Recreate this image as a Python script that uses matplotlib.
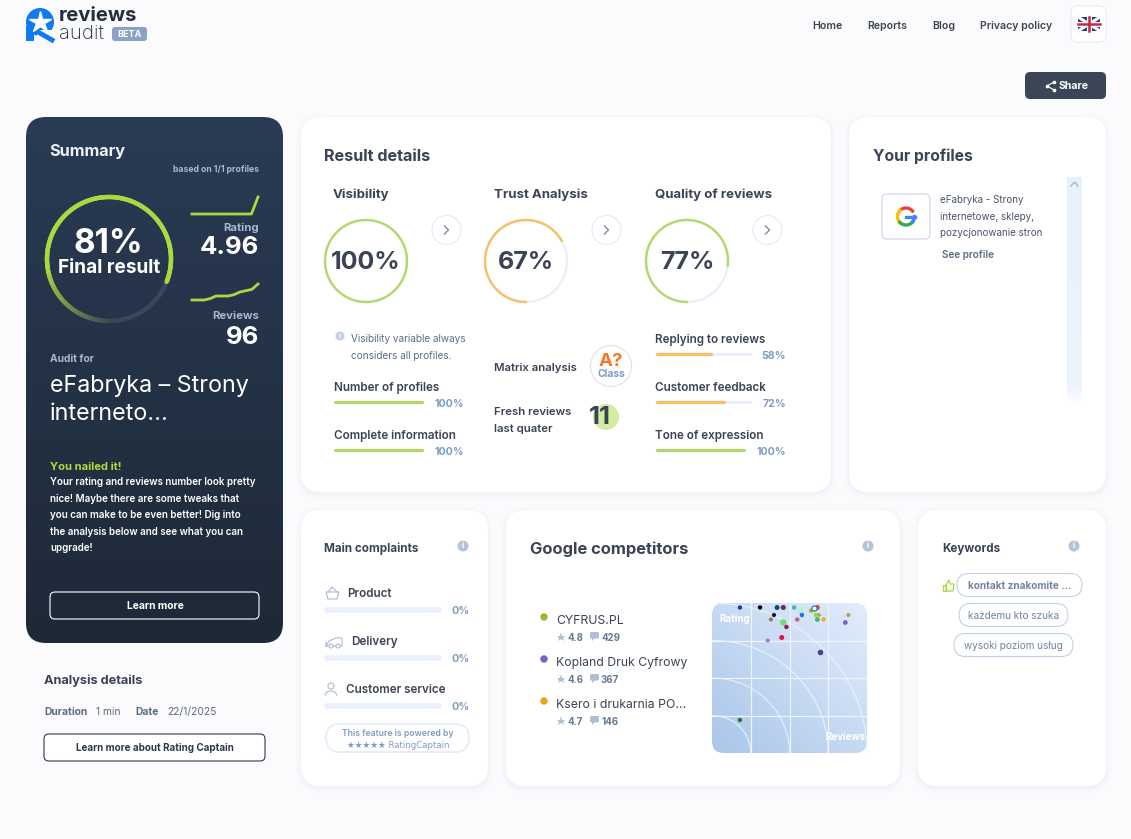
import matplotlib
matplotlib.use('Agg')
import matplotlib.pyplot as plt
import numpy as np
from matplotlib.patches import FancyBboxPatch, Circle, Rectangle, Polygon
from matplotlib.colors import LinearSegmentedColormap, to_rgb

plt.rcParams['font.family'] = ['Inter', 'DejaVu Sans']

# data
nav_labels = ['Home', 'Reports', 'Blog', 'Privacy policy']
final_result = 81
rating = '4.96'
reviews = '96'
rating_trend = [4.90, 4.90, 4.90, 4.90, 4.90, 4.90, 4.90, 4.90, 4.90, 4.90, 4.96]
reviews_trend = [84, 84, 84, 85, 87, 87, 87, 88, 90, 91, 92, 96]

gauge_names = ['Visibility', 'Trust Analysis', 'Quality of reviews']
gauge_values = [100, 67, 77]

left_bars = ['Number of profiles', 'Complete information']
left_values = [100, 100]
right_bars = ['Replying to reviews', 'Customer feedback', 'Tone of expression']
right_values = [58, 72, 100]

complaints = ['Product', 'Delivery', 'Customer service']
complaint_values = [0, 0, 0]

competitors = ['CYFRUS.PL', 'Kopland Druk Cyfrowy', 'Ksero i drukarnia PO...']
comp_rating = [4.8, 4.6, 4.7]
comp_reviews = [429, 367, 146]
comp_colors = ['#a3b03a', '#7a5fd0', '#f0a01c']

keywords = ['kontakt znakomite ...', 'każdemu kto szuka', 'wysoki poziom usług']

summary_text = ['Your rating and reviews number look pretty',
                'nice! Maybe there are some tweaks that',
                'you can make to be even better! Dig into',
                'the analysis below and see what you can',
                'upgrade!']

# matrix scatter, both axes 0-100
matrix_reviews = [18, 31, 42, 46, 53, 66, 68, 57, 64, 40, 58, 67, 69, 88, 38, 55, 68, 72, 86, 46, 48, 45, 36, 70, 18]
matrix_rating = [97, 97, 97, 97, 97, 97, 97, 95, 95, 92, 92, 92, 92, 92, 89, 89, 89, 89, 87, 87, 84, 77, 75, 67, 22]
matrix_colors = ['#1c3f9c', '#000000', '#0f4c75', '#6b2a4a', '#2fb7c9', '#ffffff', '#d9541e', '#b5eed5', '#9ab51a',
                 '#2d0f3a', '#1f6fe8', '#8fe01a', '#b5a83c', '#b5a83c', '#8f8a3a', '#cc5c85', '#3ab87a', '#f0a81c',
                 '#7d62cc', '#6fe06a', '#a0106a', '#e0104f', '#b070ea', '#4b3fa0', '#1d7a30']
matrix_sizes = [10, 10, 13, 13, 10, 18, 13, 22, 10, 9, 10, 10, 7, 9, 9, 10, 12, 9, 12, 22, 10, 13, 9, 16, 10]

W, H = 1131, 839
DARK = '#3a4454'
BLUE = '#7f9cc4'
GREEN = '#b5d86a'
ORANGE = '#f8bf66'
PALE = '#e9f0fb'

fig = plt.figure(figsize=(W / 100, H / 100), dpi=100, facecolor='#fbfbfd')
ax = fig.add_axes([0, 0, 1, 1])
ax.set_xlim(0, W)
ax.set_ylim(H, 0)
ax.axis('off')


def t(x, y, s, size=9, color=DARK, weight='normal', ha='left', **kw):
    return ax.text(x, y + 3.2, s, fontsize=size, color=color, fontweight=weight, ha=ha, va='center', **kw)


def box(x, y, w, h, r, fc='white', ec='none', lw=1, z=1, target=None):
    p = FancyBboxPatch((x, y), w, h, boxstyle='round,pad=0,rounding_size=%s' % r,
                       fc=fc, ec=ec, lw=lw, zorder=z)
    (target or ax).add_patch(p)
    return p


def card(x, y, w, h, r=20):
    for grow, a in ((5, 0.008), (3, 0.012), (1, 0.016)):
        box(x - grow, y - grow + 2, w + 2 * grow, h + 2 * grow, r + grow, fc=(0.2, 0.3, 0.5, a))
    box(x, y, w, h, r)


def gradient(x, y, w, h, r, c0, c1, z=1.5):
    g = np.linspace(0, 1, 256)
    cm = LinearSegmentedColormap.from_list('g', [c0, c1])
    im = ax.imshow(g.reshape(-1, 1), cmap=cm, extent=(x, x + w, y + h, y), aspect='auto', zorder=z, vmin=0, vmax=1)
    clip = box(x, y, w, h, r, fc='none', z=z)
    im.set_clip_path(clip)
    ax.set_xlim(0, W)
    ax.set_ylim(H, 0)
    return im


def ring(cx, cy, r, value, color, rest, lw=1.7):
    # arcs start at the bottom and run clockwise
    a = np.radians(np.linspace(180, 540, 200))
    ax.plot(cx + r * np.sin(a), cy - r * np.cos(a), color=rest, lw=lw, zorder=3)
    a = np.radians(np.linspace(180, 180 + 3.6 * value, 200))
    ax.plot(cx + r * np.sin(a), cy - r * np.cos(a), color=color, lw=lw, zorder=4, solid_capstyle='round')


def bar(x, y, w, value, color, full=None, track=PALE, lw=2.3):
    ax.plot([x, x + w], [y, y], color=track, lw=lw, solid_capstyle='round', zorder=3)
    if value > 0:
        ax.plot([x, x + (full or w) * value / 100], [y, y], color=color, lw=lw, solid_capstyle='round', zorder=4)


def info(x, y):
    ax.add_patch(Circle((x, y), 5.5, fc='#b4c3d8', ec='none', zorder=3))
    ax.text(x, y, 'i', fontsize=6, color='white', fontweight='bold', ha='center', va='center', zorder=4)


# header
ax.add_patch(Circle((40, 22), 14, fc='#0d7bf2', zorder=2))
ax.add_patch(Rectangle((26, 26), 8, 15, fc='#0d7bf2', zorder=2))
ax.add_patch(Rectangle((37, 30), 17, 12, fc='#fbfbfd', zorder=2.1))
ax.plot([38, 52], [32, 40], color='#0d7bf2', lw=3.5, zorder=2.2)
ax.plot([40], [22], marker='*', ms=16, mfc='white', mec='white', zorder=3)
t(59, 13, 'reviews', 14.6, '#222e3e', 'bold')
t(59, 31, 'audit', 14.6, '#222e3e', 'light')
box(112, 27, 35, 14, 3, fc='#8aa3c7')
t(129.5, 31, 'BETA', 6.5, 'white', 'bold', ha='center', zorder=3)

for label, x in zip(nav_labels, [812, 867, 932, 980]):
    t(x, 23, label, 7.6, DARK, 'semibold')
box(1071, 6, 35, 36, 7, fc='white', ec='#e8ebf1', lw=0.8)
ax.add_patch(Rectangle((1078, 17), 22, 14, fc='#2a3f85', zorder=3))
ax.plot([1078, 1100], [17, 31], color='white', lw=2.2, zorder=3.1)
ax.plot([1078, 1100], [31, 17], color='white', lw=2.2, zorder=3.1)
ax.plot([1078, 1100], [24, 24], color='white', lw=3.6, zorder=3.2)
ax.plot([1089, 1089], [17, 31], color='white', lw=3.6, zorder=3.2)
ax.plot([1078, 1100], [24, 24], color='#c8283c', lw=1.8, zorder=3.3)
ax.plot([1089, 1089], [17, 31], color='#c8283c', lw=1.8, zorder=3.3)

box(1025, 72, 81, 27, 5, fc='#3a4656')
ax.plot([1054, 1047, 1054], [82, 86, 90], color='white', lw=0.8, zorder=3)
ax.scatter([1054, 1047, 1054], [82, 86, 90], s=7, c='white', linewidths=0, zorder=3)
t(1059, 83, 'Share', 7.6, 'white', 'bold', zorder=3)

# summary card
gradient(26, 117, 257, 526, 20, '#2a3b55', '#1e2937')
t(49, 148, 'Summary', 11.7, '#eef2f8', 'bold', zorder=3)
t(259, 166, 'based on 1/1 profiles', 6.2, '#a9b8d0', 'bold', ha='right', zorder=3)

cx, cy, r = 109, 259, 62
a = np.radians(np.linspace(113, 180, 60))
ax.plot(cx + r * np.sin(a), cy - r * np.cos(a), color='#3b4656', lw=3.2, zorder=3)
a = np.radians(np.linspace(180, 180 + 3.6 * final_result, 300))
grey, green = np.array(to_rgb('#3b4656')), np.array(to_rgb('#a9d840'))
for i in range(len(a) - 1):
    f = min(i / 85, 1)
    ax.plot(cx + r * np.sin(a[i:i + 2]), cy - r * np.cos(a[i:i + 2]), color=grey + (green - grey) * f,
            lw=3.2, zorder=4, solid_capstyle='round')
t(108, 241, '%d%%' % final_result, 24, 'white', 'bold', ha='center', zorder=5)
t(109, 265, 'Final result', 13.7, 'white', 'bold', ha='center', zorder=5)

spark1 = fig.add_axes([192 / W, 1 - 214 / H, 66 / W, 17 / H])
spark1.plot(np.arange(len(rating_trend)), rating_trend, color='#a9d840', lw=2, clip_on=False)
spark1.set_xlim(0, len(rating_trend) - 1)
spark1.set_ylim(min(rating_trend), max(rating_trend))
spark1.axis('off')
spark2 = fig.add_axes([192 / W, 1 - 300 / H, 66 / W, 16 / H])
spark2.plot(np.arange(len(reviews_trend)), reviews_trend, color='#a9d840', lw=2, clip_on=False)
spark2.set_xlim(0, len(reviews_trend) - 1)
spark2.set_ylim(min(reviews_trend), max(reviews_trend))
spark2.axis('off')

t(259, 225, 'Rating', 8.2, '#a9b8d0', 'bold', ha='right', zorder=3)
t(259, 244, rating, 18.5, 'white', 'bold', ha='right', zorder=3)
t(259, 313, 'Reviews', 8.2, '#a9b8d0', 'bold', ha='right', zorder=3)
t(259, 334, reviews, 18.5, 'white', 'bold', ha='right', zorder=3)

t(50, 356, 'Audit for', 7.4, '#a9b8d0', 'bold', zorder=3)
t(50, 383, 'eFabryka – Strony', 16.8, 'white', 'normal', zorder=3)
t(50, 411, 'interneto...', 16.8, 'white', 'normal', zorder=3)
t(50, 464, 'You nailed it!', 8, '#b2dc3c', 'bold', zorder=3)
for i, line in enumerate(summary_text):
    t(50, 479 + i * 16.5, line, 7.1, 'white', 'semibold', zorder=3)
box(50, 592, 209, 27, 5, fc='none', ec='white', lw=0.8, z=3)
t(155, 603, 'Learn more', 7.4, 'white', 'bold', ha='center', zorder=4)

# analysis details
t(44, 678, 'Analysis details', 9.2, DARK, 'bold')
t(44, 709, 'Duration', 7.4, '#5b6b82', 'bold')
t(96, 709, '1 min', 7.4, '#5b6b82')
t(135, 709, 'Date', 7.4, '#5b6b82', 'bold')
t(167, 709, '22/1/2025', 7.4, '#5b6b82')
box(44, 734, 221, 27, 5, fc='white', ec='#2d3a4e', lw=0.8)
t(155, 745, 'Learn more about Rating Captain', 7.1, '#2d3a4e', 'bold', ha='center', zorder=3)

# result details
card(301, 117, 530, 375)
t(324, 153, 'Result details', 11.6, DARK, 'bold', zorder=3)
for name, value, x, nx in zip(gauge_names, gauge_values, [366, 526, 687], [333, 494, 655]):
    t(nx, 192, name, 9.5, DARK, 'bold', zorder=3)
    color = GREEN if value == 100 or value == 77 else ORANGE
    ring(x, 261, 41, value, color, PALE)
    t(x, 259, '%d%%' % value, 18, DARK, 'bold', ha='center', zorder=5)
    ax.add_patch(Circle((x + 80.5, 230), 14.5, fc='white', ec='#e4ebf5', lw=0.8, zorder=3))
    ax.plot([x + 78.5, x + 82.5, x + 78.5], [226, 230, 234], color='#7d8ea6', lw=1, zorder=4)

ax.add_patch(Circle((340, 336), 4.5, fc='#c2d0e2', zorder=3))
ax.text(340, 336, 'i', fontsize=5, color='white', fontweight='bold', ha='center', va='center', zorder=4)
t(351, 336, 'Visibility variable always', 7.2, '#5e6d83', zorder=3)
t(351, 353, 'considers all profiles.', 7.2, '#5e6d83', zorder=3)
for name, value, y in zip(left_bars, left_values, [386, 434]):
    t(334, y - 1, name, 8.4, DARK, 'semibold', zorder=3)
    bar(335, y + 16, 87, value, GREEN)
    t(464, y + 15, '%d%%' % value, 7.6, BLUE, 'bold', ha='right', zorder=3)

t(494, 365, 'Matrix analysis', 8.2, DARK, 'semibold', zorder=3)
ax.add_patch(Circle((611, 366), 20.5, fc='white', ec='#dde2ec', lw=0.8, zorder=3))
t(611, 358, 'A?', 13.5, '#f47a2a', 'bold', ha='center', zorder=4)
t(611, 371, 'Class', 7.4, BLUE, 'bold', ha='center', zorder=4)
t(494, 409, 'Fresh reviews', 8.2, DARK, 'semibold', zorder=3)
t(494, 426, 'last quater', 8.2, DARK, 'semibold', zorder=3)
ax.add_patch(Circle((606, 417), 13, fc='#d4ecA0', zorder=3))
t(600, 414, '11', 18.5, DARK, 'bold', ha='center', zorder=4)

for name, value, y in zip(right_bars, right_values, [338, 386, 434]):
    t(655, y - 1, name, 8.4, DARK, 'semibold', zorder=3)
    bar(657, y + 16, 93 if value < 100 else 87, value, ORANGE if value < 100 else GREEN)
    t(786, y + 15, '%d%%' % value, 7.6, BLUE, 'bold', ha='right', zorder=3)

# profiles
card(849, 117, 257, 375)
t(873, 153, 'Your profiles', 11.3, DARK, 'bold', zorder=3)
box(882, 194, 48, 45, 5, fc='white', ec='#c6d5e8', lw=0.8, z=2)
for start, stop, col in ((40, 135, '#ea4335'), (135, 225, '#fbbc05'), (225, 320, '#34a853'), (320, 360, '#4285f4')):
    a = np.radians(np.linspace(start, stop, 30))
    ax.plot(906 + 8.5 * np.cos(a), 216.5 - 8.5 * np.sin(a), color=col, lw=2.4, zorder=3)
ax.plot([906, 915], [216.5, 216.5], color='#4285f4', lw=2.4, zorder=3)
for i, line in enumerate(['eFabryka - Strony', 'internetowe, sklepy,', 'pozycjonowanie stron']):
    t(940, 197 + i * 16.5, line, 7.1, '#4a5568', zorder=3)
t(942, 252, 'See profile', 7.2, '#5e6d83', 'semibold', zorder=3)
gradient(1067, 177, 15, 210, 0, '#e8f0fb', '#eef4fc', z=2)
gradient(1067, 387, 15, 18, 0, '#eef4fc', '#ffffff', z=2)
ax.plot([1071, 1074.5, 1078], [186, 182, 186], color='#a8b8cc', lw=1, zorder=3)

# main complaints
card(301, 510, 187, 276)
t(324, 546, 'Main complaints', 8.4, DARK, 'bold', zorder=3)
info(463, 546)
for name, value, y, x in zip(complaints, complaint_values, [593, 641, 689], [347, 351, 346]):
    t(x, y - 2, name, 8.4, DARK, 'semibold', zorder=3)
    bar(327, y + 17, 112, value, GREEN, lw=4.2)
    t(470, y + 15, '%d%%' % value, 7.8, BLUE, 'bold', ha='right', zorder=3)
# basket, van and person icons
ax.add_patch(Polygon([[326, 592], [339, 592], [337, 599], [328, 599]], fc='none', ec='#a9bcd4', lw=0.8, zorder=3))
ax.plot([328, 332, 337], [592, 587, 592], color='#a9bcd4', lw=0.8, zorder=3)
ax.plot([326, 329, 336, 342, 342, 326, 326], [646, 641, 638, 638, 646, 646, 642], color='#a9bcd4', lw=0.8, zorder=3)
ax.add_patch(Circle((331, 646), 2, fc='white', ec='#a9bcd4', lw=0.8, zorder=3.1))
ax.add_patch(Circle((338, 646), 2, fc='white', ec='#a9bcd4', lw=0.8, zorder=3.1))
ax.add_patch(Circle((331, 686), 3, fc='none', ec='#a9bcd4', lw=0.8, zorder=3))
a = np.radians(np.linspace(0, 180, 30))
ax.plot(331 + 5.5 * np.cos(a), 695 - 4 * np.sin(a), color='#a9bcd4', lw=0.8, zorder=3)
box(326, 724, 143, 28, 14, fc='white', ec='#e6eefa', lw=1.4, z=2)
t(398, 730, 'This feature is powered by', 6.2, BLUE, 'semibold', ha='center', zorder=3)
t(398, 742, '★★★★★ RatingCaptain', 6.2, BLUE, 'normal', ha='center', zorder=3, family=['DejaVu Sans'])

# google competitors
card(506, 510, 394, 276)
t(530, 546, 'Google competitors', 11.9, DARK, 'bold', zorder=3)
info(868, 546)
for i, name in enumerate(competitors):
    y = 620 + i * 42
    ax.add_patch(Circle((544, y - 3), 3.7, fc=comp_colors[i], zorder=3))
    t(556, y - 2, name, 8.8, DARK, 'normal', zorder=3)
    ax.plot([561], [y + 17], marker='*', ms=6.5, color='#aebed4', mew=0, zorder=3)
    t(567, y + 15, '%.1f' % comp_rating[i], 7, '#6a7a91', 'bold', zorder=3)
    box(590, y + 12, 9, 6.5, 1.5, fc='#aebed4', z=3)
    ax.add_patch(Polygon([[592, y + 18], [595, y + 18], [592, y + 21]], fc='#aebed4', zorder=3))
    t(601, y + 15, '%d' % comp_reviews[i], 7, '#6a7a91', 'bold', zorder=3)

m = fig.add_axes([712 / W, 1 - 753 / H, 155 / W, 150 / H])
m.set_xlim(0, 100)
m.set_ylim(0, 100)
m.axis('off')
u = np.linspace(0, 1, 256)
cm = LinearSegmentedColormap.from_list('m', ['#a9c6e9', '#e3edfc'])
bg = m.imshow(np.add.outer(1 - u, u) / 2, cmap=cm, extent=(0, 100, 0, 100), aspect='auto', vmin=0, vmax=1, zorder=0)
clip = FancyBboxPatch((712, 603), 155, 150, boxstyle='round,pad=0,rounding_size=12', transform=ax.transData)
bg.set_clip_path(clip)
for v in (25, 50, 75):
    m.plot([v, v], [0, 100], color='#eef4fd', lw=0.9, zorder=1)
    m.plot([0, 100], [v, v], color='#eef4fd', lw=0.9, zorder=1)
a = np.linspace(0, np.pi / 2, 100)
for v in (25, 50, 75, 100):
    m.plot(v * np.cos(a), v * np.sin(a), color='#eef4fd', lw=0.9, alpha=0.8, zorder=1)
m.scatter(matrix_reviews, matrix_rating, s=matrix_sizes, c=matrix_colors, linewidths=0, zorder=3, clip_on=False)
m.scatter([66], [97], s=14, c='white', edgecolors='#1f6fe8', linewidths=0.9, zorder=4)
m.text(5, 89, 'Rating', fontsize=7, color='white', fontweight='bold', va='center', zorder=5)
m.text(73, 11, 'Reviews', fontsize=7, color='white', fontweight='bold', va='center', zorder=5)

# keywords
card(918, 510, 188, 276)
t(942, 546, 'Keywords', 8.4, DARK, 'bold', zorder=3)
info(1074, 546)
ax.add_patch(Rectangle((943, 585), 2.5, 6, fc='none', ec='#a9d840', lw=0.9, zorder=3))
ax.add_patch(Polygon([[946, 585], [949, 580], [950, 584], [954, 584], [953, 591], [946, 591]],
                     fc='none', ec='#a9d840', lw=0.9, zorder=3))
for word, y, x0, w, weight in zip(keywords, [585, 615, 645], [957, 959, 954], [125, 109, 119],
                                  ['bold', 'normal', 'normal']):
    box(x0, y - 11.5, w, 23, 11.5, fc='white', ec='#c2d1e6', lw=0.8, z=2)
    t(x0 + w / 2, y - 2, word, 7.2, '#71849f', weight, ha='center', zorder=3)

fig.savefig('out.png', dpi=100, facecolor=fig.get_facecolor())
